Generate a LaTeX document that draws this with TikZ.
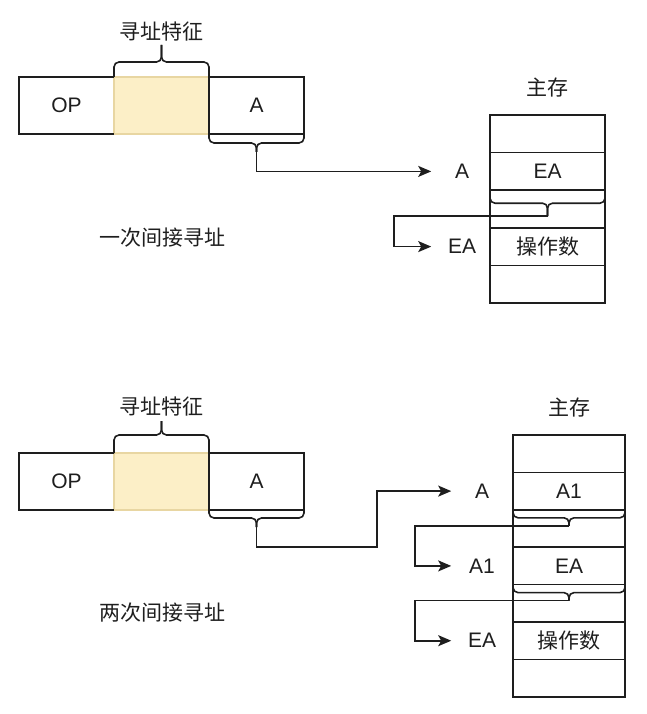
\documentclass[tikz,border=0pt]{standalone}
\usepackage{fontspec}
\setmainfont{Liberation Sans}
\newfontfamily\cjk{Noto Sans CJK SC}
\usetikzlibrary{positioning,calc,arrows.meta}
\definecolor{feat}{RGB}{252,239,199}
\definecolor{featline}{RGB}{232,214,162}
\definecolor{ink}{RGB}{30,30,30}
\tikzset{>={Stealth[length=13pt,width=11pt,inset=3pt]}}
\tikzset{
  cell/.style={minimum width=95pt,minimum height=57pt,inner sep=0pt,outer sep=0pt},
  mem/.style={draw,minimum width=115pt,minimum height=37.6pt,inner sep=0pt,outer sep=0pt},
  addr/.style={minimum width=60pt,inner sep=0pt},
  zh/.style={font=\cjk\fontsize{21}{25}\selectfont},
  brc/.style={rounded corners=5pt},
}
\begin{document}
\begin{tikzpicture}[x=1pt,y=-1pt,line width=1.6pt,color=ink,font=\fontsize{21}{25}\selectfont]
\useasboundingbox[fill=white] (0,0) rectangle (647,714);

\node[cell] (op1) at (66.5,105.5) {OP};
\node[cell,right=0pt of op1,fill=feat,draw=featline] (feat1) {};
\node[cell,draw,right=0pt of feat1] (a1) {A};
\draw (op1.north east) -- (op1.north west) -- (op1.south west) -- (op1.south east);
\coordinate (b1) at ($(feat1.north)+(0,-32)$);
\draw[brc] (feat1.north west) |- ($(b1)+(0,17)$) -- (b1);
\draw[brc] (feat1.north east) |- ($(b1)+(0,17)$) -- (b1);
\node[zh] (f1) at (161.5,32) {寻址特征};
\coordinate (t1) at ($(a1.south)+(0,18)$);
\draw[brc] (a1.south west) |- ($(t1)+(0,-9)$) -- (t1);
\draw[brc] (a1.south east) |- ($(t1)+(0,-9)$) -- (t1);
\node[zh] (c1) at (162,238) {一次间接寻址};

\node[mem] (m11) at (547.5,133.8) {};
\node[mem,below=0pt of m11] (m12) {EA};
\node[mem,below=0pt of m12] (m13) {};
\node[mem,below=0pt of m13] (m14) {\cjk 操作数};
\node[mem,below=0pt of m14] (m15) {};
\node[zh,above=14pt of m11] (s1) {主存};
\coordinate (t2) at ($(m13.north)+(0,26)$);
\draw[brc] (m13.north west) |- ($(t2)+(0,-13)$) -- (t2);
\draw[brc] (m13.north east) |- ($(t2)+(0,-13)$) -- (t2);
\node[addr] (p1) at ($(m12.west)+(-28,0)$) {A};
\node[addr] (p2) at ($(m14.west)+(-28,0)$) {EA};
\draw[->] (t1) |- (p1.west);
\draw[->] (t2) -| ($(p2.west)+(-37,0)$) -- (p2.west);

\node[cell] (op2) at (66.5,481.5) {OP};
\node[cell,right=0pt of op2,fill=feat,draw=featline] (feat2) {};
\node[cell,draw,right=0pt of feat2] (a2) {A};
\draw (op2.north east) -- (op2.north west) -- (op2.south west) -- (op2.south east);
\coordinate (b2) at ($(feat2.north)+(0,-32)$);
\draw[brc] (feat2.north west) |- ($(b2)+(0,14)$) -- (b2);
\draw[brc] (feat2.north east) |- ($(b2)+(0,14)$) -- (b2);
\node[zh] (f2) at (161.5,407) {寻址特征};
\coordinate (t3) at ($(a2.south)+(0,17)$);
\draw[brc] (a2.south west) |- ($(t3)+(0,-9)$) -- (t3);
\draw[brc] (a2.south east) |- ($(t3)+(0,-9)$) -- (t3);
\node[zh] (c2) at (162,613) {两次间接寻址};

\tikzset{mem/.append style={minimum width=112pt,minimum height=37.4pt}}
\node[mem] (m21) at (569,453.7) {};
\node[mem,below=0pt of m21] (m22) {A1};
\node[mem,below=0pt of m22] (m23) {};
\node[mem,below=0pt of m23] (m24) {EA};
\node[mem,below=0pt of m24] (m25) {};
\node[mem,below=0pt of m25] (m26) {\cjk 操作数};
\node[mem,below=0pt of m26] (m27) {};
\node[zh,above=14pt of m21] (s2) {主存};
\coordinate (t4) at ($(m23.north)+(0,16)$);
\draw[brc] (m23.north west) |- ($(t4)+(0,-8)$) -- (t4);
\draw[brc] (m23.north east) |- ($(t4)+(0,-8)$) -- (t4);
\coordinate (t5) at ($(m25.north)+(0,16)$);
\draw[brc] (m25.north west) |- ($(t5)+(0,-8)$) -- (t5);
\draw[brc] (m25.north east) |- ($(t5)+(0,-8)$) -- (t5);
\node[addr] (q1) at ($(m22.west)+(-31,0)$) {A};
\node[addr] (q2) at ($(m24.west)+(-31,0)$) {A1};
\node[addr] (q3) at ($(m26.west)+(-31,0)$) {EA};
\draw[->] (t3) -- ++(0,20) -| ($(q1.west)+(-74,0)$) -- (q1.west);
\draw[->] (t4) -| ($(q2.west)+(-36,0)$) -- (q2.west);
\draw[->] (t5) -| ($(q3.west)+(-36,0)$) -- (q3.west);
\end{tikzpicture}
\end{document}
